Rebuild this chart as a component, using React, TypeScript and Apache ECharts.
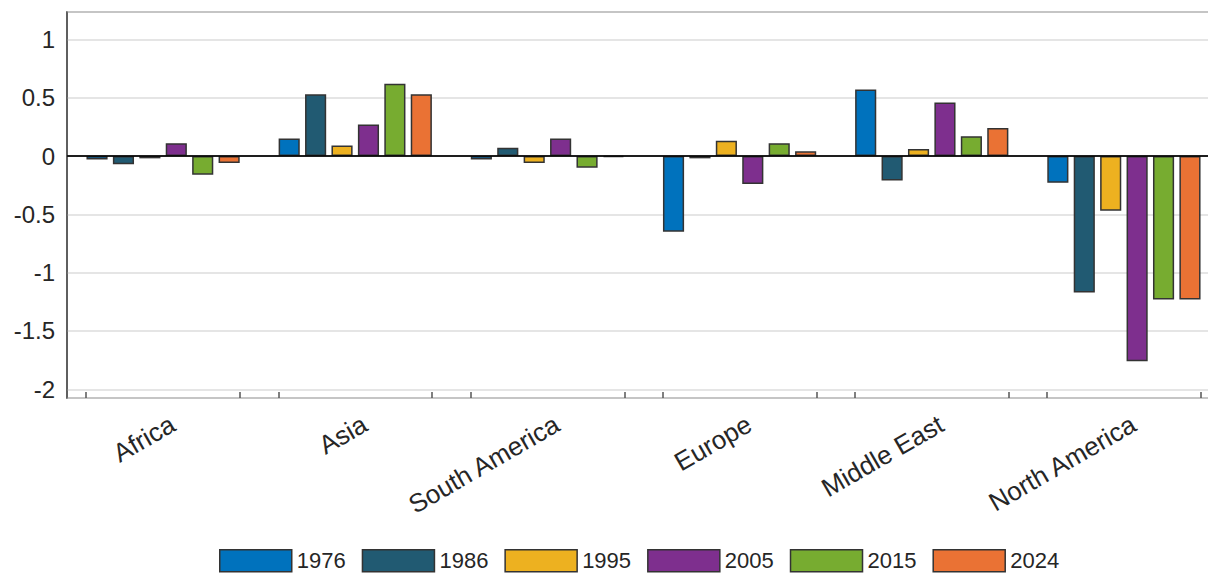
import React, { useEffect, useRef } from "react";
import * as echarts from "echarts";

const regions = ["Africa", "Asia", "South America", "Europe", "Middle East", "North America"];
const years = ["1976", "1986", "1995", "2005", "2015", "2024"];
const colors = ["#0072BD", "#215A72", "#EDB120", "#7E2F8E", "#77AC30", "#EA7234"];

const v1976 = [-0.03, 0.15, -0.03, -0.65, 0.57, -0.23];
const v1986 = [-0.07, 0.53, 0.07, -0.02, -0.21, -1.17];
const v1995 = [-0.02, 0.09, -0.06, 0.13, 0.06, -0.47];
const v2005 = [0.11, 0.27, 0.15, -0.24, 0.46, -1.76];
const v2015 = [-0.16, 0.62, -0.1, 0.11, 0.17, -1.23];
const v2024 = [-0.06, 0.53, -0.01, 0.04, 0.24, -1.23];
const seriesValues = [v1976, v1986, v1995, v2005, v2015, v2024];

const yMin = -2.075;
const yMax = 1.235;

const SUB = 10;
const subCats = Array.from({ length: regions.length * SUB }, (_, i) => "s" + i);

const FONT = 'Arial, "Liberation Sans", Helvetica, sans-serif';

export default function App() {
  const ref = useRef<HTMLDivElement>(null);
  useEffect(() => {
    if (!ref.current) return;
    const chart = echarts.init(ref.current, null, { renderer: "svg" });
    const series: any[] = years.map((y, k) => ({
      name: y,
      type: "bar",
      xAxisIndex: 0,
      data: seriesValues[k],
      barWidth: "11%",
      barGap: "25%",
      itemStyle: { color: colors[k], borderColor: "#333", borderWidth: 1.5 },
      ...(k === years.length - 1
        ? {
            markLine: {
              silent: true,
              symbol: ["none", "none"],
              label: { show: false },
              lineStyle: { color: "#000", width: 1.5, type: "solid" },
              data: [{ yAxis: 0 }],
            },
          }
        : {}),
    }));
    chart.setOption({
      animation: false,
      textStyle: { fontFamily: FONT },
      grid: {
        left: 67,
        top: 12,
        width: 1153,
        bottom: 175,
        show: true,
        borderColor: "#555",
        borderWidth: 1.5,
        containLabel: false,
        outerBoundsMode: "none",
      },
      legend: {
        left: 214,
        top: 544,
        itemWidth: 72,
        itemHeight: 22,
        itemGap: 16,
        icon: "rect",
        data: years,
        textStyle: { fontSize: 22, lineHeight: 22, color: "#262626", fontFamily: FONT },
        itemStyle: { borderColor: "#333", borderWidth: 1.5 },
      },
      xAxis: [
        {
          type: "category",
          data: regions,
          position: "bottom",
          axisLine: { show: true, lineStyle: { color: "#555", width: 1.5 } },
          axisTick: { show: false },
          axisLabel: { show: false },
          splitLine: { show: false },
        },
        {
          type: "category",
          data: subCats,
          position: "bottom",
          axisLine: { show: false },
          axisTick: {
            show: true,
            inside: true,
            length: 6,
            interval: (i: number) => i % SUB === 1 || i % SUB === SUB - 1,
            lineStyle: { color: "#555", width: 1.5 },
          },
          axisLabel: {
            show: true,
            interval: (i: number) => i % SUB === 5,
            formatter: (_v: string, i: number) => (i % SUB === 5 ? regions[(i - 5) / SUB] : ""),
            rotate: 30,
            margin: 24,
            fontSize: 26,
            color: "#262626",
            fontFamily: FONT,
          },
          splitLine: { show: false },
        },
      ],
      yAxis: {
        type: "value",
        min: yMin,
        max: yMax,
        splitNumber: 6,
        axisLine: { show: true, lineStyle: { color: "#555", width: 1.5 } },
        axisTick: { show: false },
        axisLabel: {
          showMinLabel: false,
          showMaxLabel: false,
          margin: 12,
          fontSize: 24,
          color: "#262626",
          fontFamily: FONT,
          formatter: (v: number) => (Math.abs(v * 2 - Math.round(v * 2)) > 1e-6 ? "" : String(v)),
        },
        splitLine: { show: true, lineStyle: { color: "#dcdcdc", width: 1.5 } },
      },
      series,
    });
    return () => chart.dispose();
  }, []);
  return (
    <div
      ref={ref}
      style={{ position: "absolute", left: 0, top: 0, width: 1208, height: 573 }}
    />
  );
}
